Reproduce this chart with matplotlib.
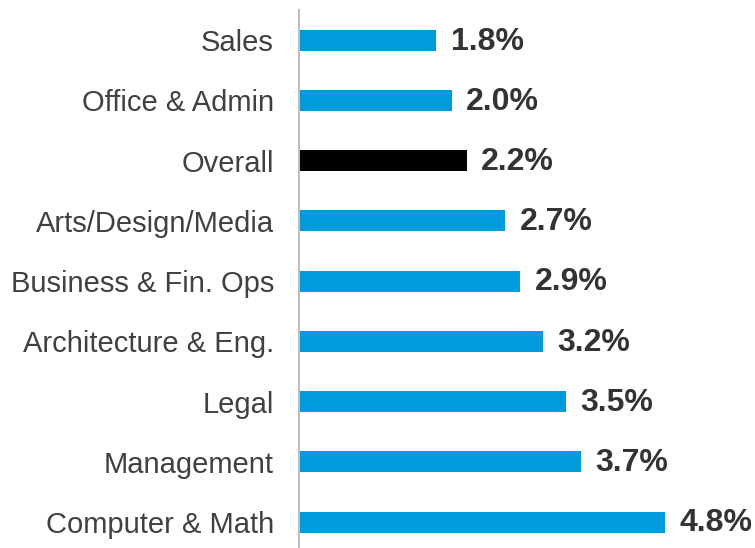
import matplotlib.pyplot as plt

plt.rcParams['font.family'] = ['Liberation Sans', 'DejaVu Sans']

# categories, top to bottom
categories = ['Sales', 'Office & Admin', 'Overall', 'Arts/Design/Media',
              'Business & Fin. Ops', 'Architecture & Eng.', 'Legal',
              'Management', 'Computer & Math']
values = [1.8, 2.0, 2.2, 2.7, 2.9, 3.2, 3.5, 3.7, 4.8]
labels = ['1.8%', '2.0%', '2.2%', '2.7%', '2.9%', '3.2%', '3.5%', '3.7%', '4.8%']
highlight = 'Overall'

fig = plt.figure(figsize=(7.55, 5.48), dpi=100)
ax = fig.add_axes([299 / 755, 0, 456 / 755, 538 / 548])

colors = ['#000000' if c == highlight else '#009ADE' for c in categories]
pos = list(range(len(categories)))
ax.barh(pos, values, height=0.35, color=colors)

for p, v, lab in zip(pos, values, labels):
    ax.annotate(lab, (v, p), xytext=(10.5, -1), textcoords='offset points',
                va='center', ha='left', fontsize=23, fontweight='bold',
                color='#333333')

ax.set_xlim(0, 5.98)
ax.set_ylim(8.43, -0.5)
ax.set_yticks(pos)
ax.set_yticklabels(categories, fontsize=21, color='#404040')
ax.tick_params(axis='y', length=0, pad=18)
ax.set_xticks([])
for s in ['top', 'right', 'bottom']:
    ax.spines[s].set_visible(False)
ax.spines['left'].set_color('#BFBFBF')
ax.spines['left'].set_linewidth(1.5)

fig.savefig('out.png', dpi=100)
